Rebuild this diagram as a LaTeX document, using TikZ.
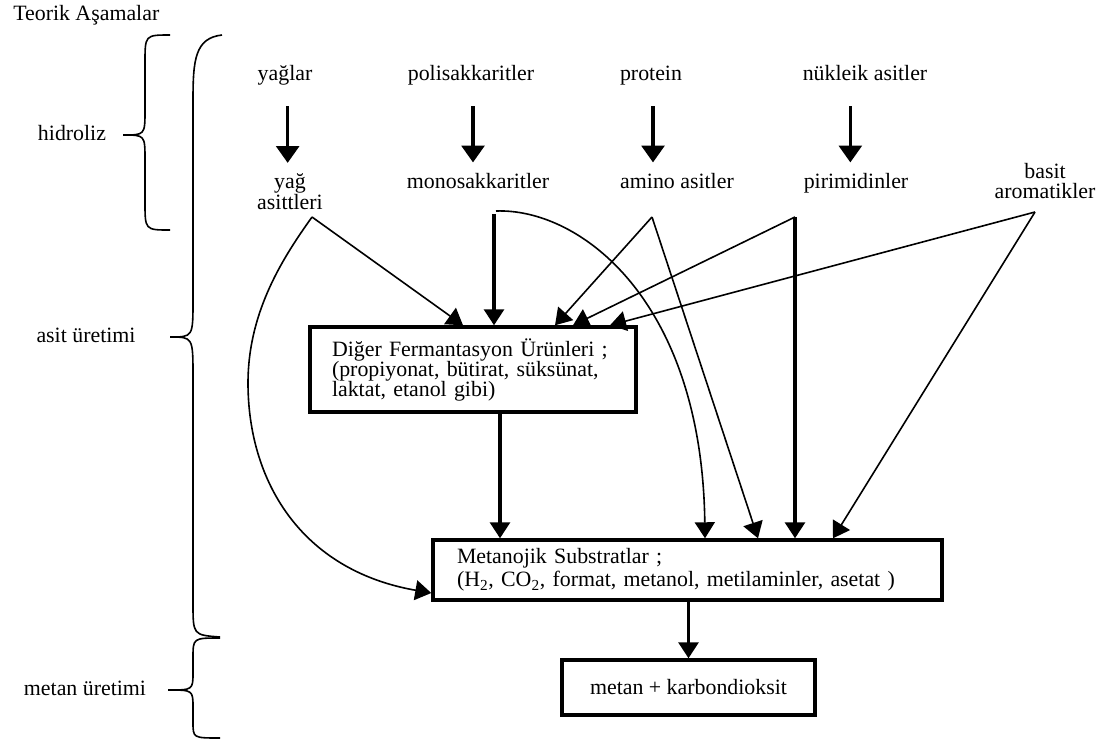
\documentclass[tikz,border=0pt]{standalone}
\usepackage{fontspec}
\setmainfont{Liberation Serif}
\usetikzlibrary{arrows.meta,positioning}

\tikzset{
  etiket/.style={inner sep=0pt,align=center,font=\fontsize{16.4}{14}\selectfont},
  tek/.style={text height=11pt,text depth=3.5pt},
  kutu/.style={draw,line width=2.6pt,inner ysep=0pt,align=left,font=\fontsize{16.4}{15}\selectfont},
  parantez/.style={line width=1.2pt},
  harrow/.style={line width=2.4pt,-{Triangle[length=12.5pt,width=17pt]},shorten <=16pt,shorten >=8pt},
  kalin/.style={line width=2.3pt,-{Triangle[length=12pt,width=15pt]}},
  ince/.style={line width=1.2pt,-{Triangle[length=12pt,width=15pt]}}
}

\begin{document}
\begin{tikzpicture}[x=0.75pt,y=-0.75pt]
\useasboundingbox (0,0) rectangle (1109,744);
% asamalar
\node[etiket,tek,anchor=west] (baslik) at (13,15) {Teorik Aşamalar};
\node[etiket,tek] (hidroliz) at (72,135) {hidroliz};
\node[etiket,tek] (asit) at (86,337) {asit üretimi};
\node[etiket,tek] (metanur) at (85,690) {metan üretimi};
\draw[parantez] (170,35) .. controls (145,35) .. (145,63) -- (145,110) .. controls (145,135) .. (123,135)
  .. controls (145,135) .. (145,160) -- (145,202) .. controls (145,230) .. (170,230);
\draw[parantez] (222,35) .. controls (195,38) and (193,60) .. (193,100) -- (193,300) .. controls (193,337) .. (170,337)
  .. controls (193,337) .. (193,377) -- (193,603) .. controls (193,635) .. (220,637);
\draw[parantez] (220,638) .. controls (193,638) .. (193,658) -- (193,672) .. controls (193,690) .. (168,690)
  .. controls (193,690) .. (193,708) -- (193,722) .. controls (193,738) .. (220,738);

% hidroliz
\node[etiket,tek] (yaglar) at (285,75) {yağlar};
\node[etiket,tek] (polisak) at (471,75) {polisakkaritler};
\node[etiket,tek] (protein) at (651,75) {protein};
\node[etiket,tek] (nukleik) at (865,75) {nükleik asitler};
\node[etiket] (yagasit) at (290,192) {yağ\\asittleri};
\node[etiket,tek] (monosak) at (478,183) {monosakkaritler};
\node[etiket,tek] (amino) at (677,183) {amino asitler};
\node[etiket,tek] (pirim) at (856,183) {pirimidinler};
\node[etiket,font=\fontsize{16.4}{15.5}\selectfont] (basit) at (1045,181) {basit\\aromatikler};
\draw[harrow] ([xshift=2pt]yaglar.south) -- ([xshift=2pt]yaglar.south |- yagasit.north);
\draw[harrow] ([xshift=1.5pt]polisak.south) -- ([xshift=1.5pt]polisak.south |- monosak.north);
\draw[harrow] ([xshift=1.5pt]protein.south) -- ([xshift=1.5pt]protein.south |- amino.north);
\draw[harrow] ([xshift=-11pt]nukleik.south) -- ([xshift=-11pt]nukleik.south |- pirim.north);

% kutular
\node[kutu,text width=211.5pt,minimum height=63.75pt,inner xsep=16.5pt] (diger) at (473,369.5)
  {Diğer Fermantasyon Ürünleri ;\\(propiyonat, bütirat, süksünat,\\laktat, etanol gibi)};
\node[kutu,text width=345.75pt,minimum height=45pt,inner xsep=18pt,font=\fontsize{16.4}{17.25}\selectfont] (metanojik) at (687.5,570)
  {Metanojik Substratlar ;\\(H\textsubscript{2}, CO\textsubscript{2}, format, metanol, metilaminler, asetat )};
\node[kutu,align=center,minimum width=189.75pt,minimum height=41.25pt] (metan) at (688.5,687.5) {metan + karbondioksit};

% dallanma noktalari
\coordinate (yv) at (312,217);
\coordinate (mv) at (494,214);
\coordinate (mk) at (496,211);
\coordinate (av) at (652,217);
\coordinate (pv) at (795,217);
\coordinate (bv) at (1035,212);

\draw[ince] (yv) -- (463,0 |- diger.north);
\draw[kalin] (mv) -- (mv |- diger.north);
\draw[ince] (av) -- (555,0 |- diger.north);
\draw[ince] (pv) -- (573,0 |- diger.north);
\draw[ince] (bv) -- (610,0 |- diger.north);
\draw[ince] (yv) .. controls (285,255) and (248,310) .. (248,383) .. controls (248,480) and (300,570) .. (metanojik.west |- 0,593);
\draw[ince] (mk) .. controls (580,208) and (702,300) .. (705,0 |- metanojik.north);
\draw[ince] (av) -- (758,0 |- metanojik.north);
\draw[kalin] (pv) -- (pv |- metanojik.north);
\draw[ince] (bv) -- (833,0 |- metanojik.north);
\draw[kalin] (500,0 |- diger.south) -- (500,0 |- metanojik.north);
\draw[kalin] (metanojik.south -| metan.north) -- (metan.north);
\end{tikzpicture}
\end{document}
